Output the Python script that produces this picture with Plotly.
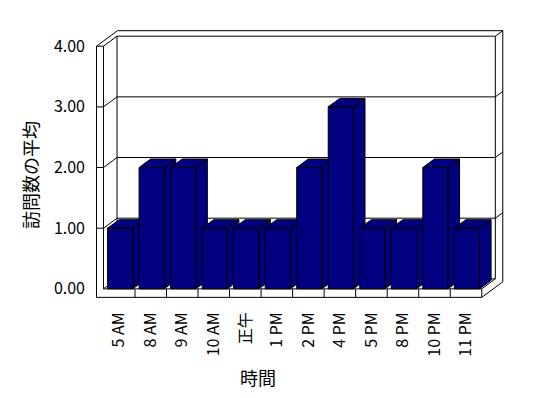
import plotly.graph_objects as go

categories = ["5 AM", "8 AM", "9 AM", "10 AM", "正午", "1 PM", "2 PM",
              "4 PM", "5 PM", "8 PM", "10 PM", "11 PM"]
values = [1, 2, 2, 1, 1, 1, 2, 3, 1, 1, 2, 1]
y_ticks = [0, 1, 2, 3, 4]
y_tick_labels = ["0.00", "1.00", "2.00", "3.00", "4.00"]
x_title = "時間"
y_title = "訪問数の平均"

BAR_COLOR = "#000080"
FONT = "Noto Sans CJK JP"

# oblique projection: depth d shifts by (DU, DV) in data units
DU, DV = 0.43, 0.165
WALL = 0.22        # wall thickness in category units
FLOOR = 0.14       # floor thickness in value units
BACK = 1.55        # outer depth of back wall
N = len(categories)
VMAX = y_ticks[-1]


def P(u, v, d):
    return u + d * DU, v + d * DV


segs = []


def seg(*pts):
    segs.append([P(*p) for p in pts])


# left wall front face and floor front face
seg((-WALL, -FLOOR, 0), (-WALL, VMAX, 0), (0, VMAX, 0), (0, 0, 0), (N, 0, 0))
seg((-WALL, -FLOOR, 0), (N, -FLOOR, 0), (N, 0, 0))
for i in range(1, N):
    seg((i, -FLOOR, 0), (i, 0, 0))
for v in y_ticks[1:-1]:
    seg((-WALL, v, 0), (0, v, 0))
# wall tops and outer edges
seg((-WALL, VMAX, 0), (-WALL, VMAX, BACK), (N, VMAX, BACK), (N, -FLOOR, BACK), (N, -FLOOR, 0))
seg((0, VMAX, 0), (0, VMAX, 1), (N, VMAX, 1), (N, 0, 1), (N, 0, 0))
seg((N, VMAX, 1), (N, VMAX, BACK))
# back inner corner and floor/back junction
seg((0, 0, 0), (0, 0, 1), (0, VMAX, 1))
seg((0, 0, 1), (N, 0, 1))
# gridlines
for v in y_ticks[1:-1]:
    seg((0, v, 0), (0, v, 1), (N, v, 1), (N, v, BACK))

fx, fy = [], []
for s in segs:
    for x, y in s:
        fx.append(x)
        fy.append(y)
    fx.append(None)
    fy.append(None)

fig = go.Figure()
fig.add_trace(go.Scatter(x=fx, y=fy, mode="lines",
                         line=dict(color="black", width=1),
                         hoverinfo="skip", showlegend=False))

B0, B1 = 0.13, 0.93
D1 = 0.85
for i, val in enumerate(values):
    x0, x1 = i + B0, i + B1
    faces = [
        [(x0, 0, 0), (x1, 0, 0), (x1, val, 0), (x0, val, 0)],
        [(x1, 0, 0), (x1, 0, D1), (x1, val, D1), (x1, val, 0)],
        [(x0, val, 0), (x1, val, 0), (x1, val, D1), (x0, val, D1)],
    ]
    bx, by = [], []
    for f in faces:
        for p in f + [f[0]]:
            x, y = P(*p)
            bx.append(x)
            by.append(y)
        bx.append(None)
        by.append(None)
    fig.add_trace(go.Scatter(x=bx, y=by, mode="lines", fill="toself",
                             fillcolor=BAR_COLOR,
                             line=dict(color="black", width=1),
                             name=categories[i], showlegend=False,
                             hoverinfo="skip"))

fig.update_layout(
    width=540, height=390,
    margin=dict(l=86, r=41, t=20, b=97),
    paper_bgcolor="white", plot_bgcolor="white",
    font=dict(family=FONT, color="black", size=16),
    xaxis=dict(range=[-0.3, 12.8], showgrid=False, zeroline=False,
               showline=False, tickmode="array",
               tickvals=[i + 0.5 for i in range(N)], ticktext=categories,
               tickangle=-90, ticks="", ticklabelstandoff=7,
               tickfont=dict(size=16, family=FONT)),
    yaxis=dict(range=[-0.2, 4.3], showgrid=False, zeroline=False,
               showline=False, tickmode="array", tickvals=y_ticks,
               ticktext=y_tick_labels, ticks="",
               ticklabelstandoff=8, tickfont=dict(size=16, family=FONT)),
    annotations=[
        dict(text=x_title, xref="paper", yref="paper", x=0.397, y=-0.278,
             showarrow=False, xanchor="center", yanchor="middle",
             font=dict(size=18, family=FONT)),
        dict(text=y_title, xref="paper", yref="paper", x=-0.155, y=0.4615,
             showarrow=False, xanchor="center", yanchor="middle",
             textangle=-90, font=dict(size=18, family=FONT)),
    ],
)

fig.write_html("out.html")
